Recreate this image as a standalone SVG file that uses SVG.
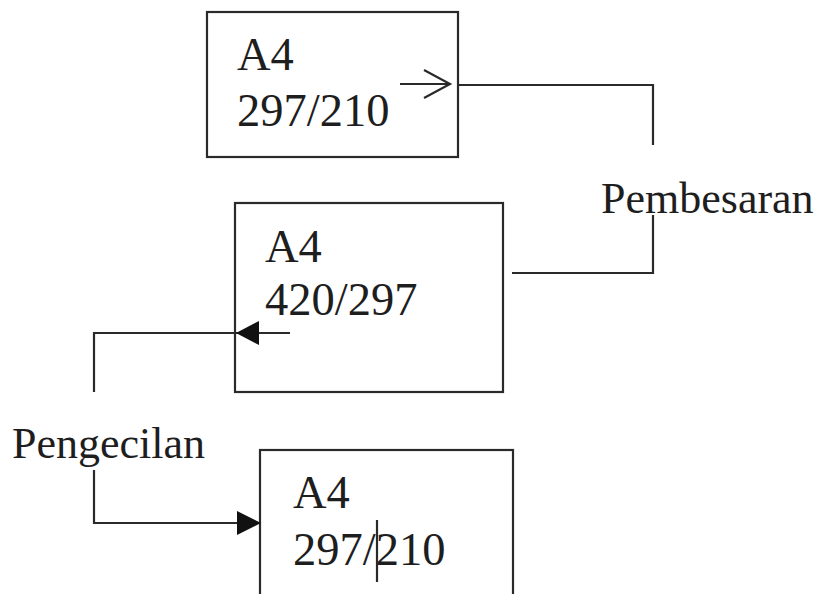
<svg xmlns="http://www.w3.org/2000/svg" width="816" height="594" viewBox="0 0 816 594">
  <style>
    .box { fill: none; stroke: #2a2a2a; stroke-width: 2.2; }
    .wire { fill: none; stroke: #2a2a2a; stroke-width: 2.2; }
    .lbl { font-family: 'Liberation Serif', 'DejaVu Serif', 'Times New Roman', serif; font-size: 44px; fill: #1e1e1e; }
    .size { font-size: 46.5px; }
    .head { fill: #111; stroke: none; }
  </style>
  <rect width="816" height="594" fill="#ffffff"/>

  <!-- paper sizes -->
  <g id="node-a4-original">
    <rect class="box" x="207" y="12" width="251" height="145"/>
    <text class="lbl size" x="237" y="70">A4</text>
    <text class="lbl size" x="237" y="126">297/210</text>
  </g>
  <g id="node-a4-enlarged">
    <rect class="box" x="235" y="203" width="268" height="189"/>
    <text class="lbl size" x="265" y="262">A4</text>
    <text class="lbl size" x="265" y="315">420/297</text>
  </g>
  <g id="node-a4-reduced">
    <rect class="box" x="260" y="450" width="253" height="160"/>
    <text class="lbl size" x="293" y="508">A4</text>
    <text class="lbl size" x="293" y="565">297/210</text>
    <line class="wire" x1="377" y1="520" x2="377" y2="582"/>
  </g>

  <!-- operation labels -->
  <g id="label-pembesaran">
    <text class="lbl" x="601" y="213">Pembesaran</text>
  </g>
  <g id="label-pengecilan">
    <text class="lbl" x="12" y="458">Pengecilan</text>
  </g>

  <g id="connectors">
    <!-- enlargement path -->
    <line class="wire" x1="400" y1="84" x2="450" y2="84"/>
    <polyline class="wire" points="424,70 450,84 424,98" stroke-width="2.6"/>
    <polyline class="wire" points="457,85 653,85 653,145"/>
    <polyline class="wire" points="653,215 653,273 512,273"/>
    <!-- reduction path -->
    <polyline class="wire" points="290,333 94,333 94,392"/>
    <polygon class="head" points="236,333 259,321 259,345"/>
    <polyline class="wire" points="94,470 94,523 240,523"/>
    <polygon class="head" points="261,523 237,511 237,535"/>
  </g>
</svg>
